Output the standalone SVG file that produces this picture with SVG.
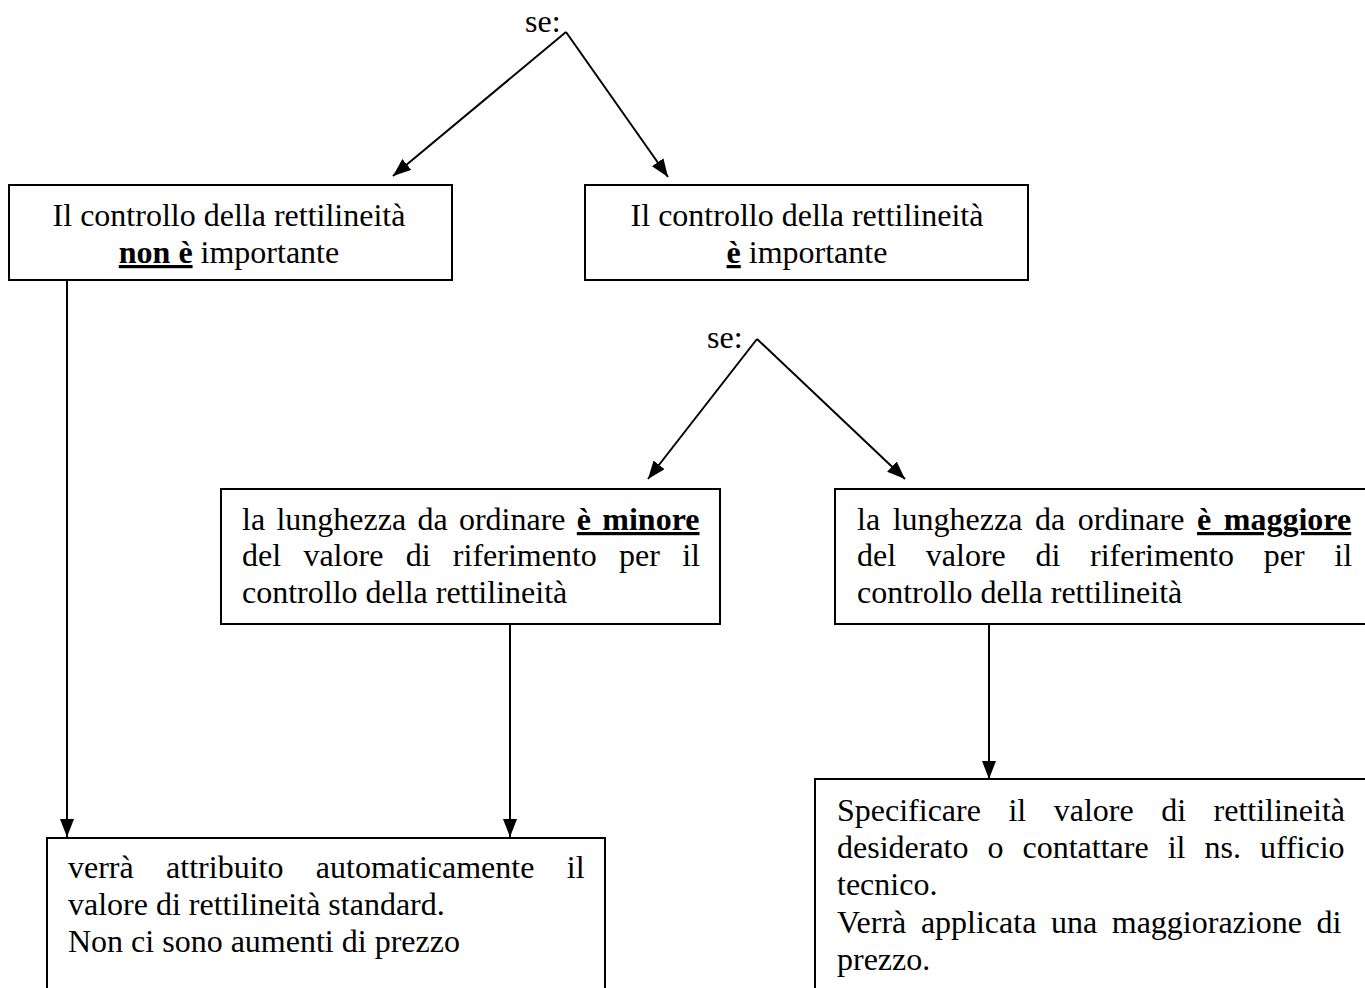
<svg xmlns="http://www.w3.org/2000/svg" width="1365" height="988" viewBox="0 0 1365 988">
<defs>
<style>
text{font-family:"Liberation Serif","Times New Roman",serif;font-size:32px;fill:#000}
.box{fill:#fff;stroke:#000;stroke-width:2}
.c{text-anchor:middle}
.b{font-weight:bold;text-decoration:underline}
.edge{stroke:#000;stroke-width:2;fill:none}
</style>
<marker id="ah" viewBox="0 0 18 14" refX="18" refY="7" markerWidth="18" markerHeight="14" markerUnits="userSpaceOnUse" orient="auto">
<path d="M0,0 L18,7 L0,14 Z" fill="#000"/>
</marker>
</defs>
<rect width="1365" height="988" fill="#fff"/>
<g id="connectors">
<line class="edge" x1="566" y1="32" x2="393" y2="176" marker-end="url(#ah)"/>
<line class="edge" x1="566" y1="32" x2="668" y2="177" marker-end="url(#ah)"/>
<line class="edge" x1="757" y1="339" x2="648" y2="479" marker-end="url(#ah)"/>
<line class="edge" x1="757" y1="339" x2="905" y2="479" marker-end="url(#ah)"/>
<line class="edge" x1="67" y1="281" x2="67" y2="837" marker-end="url(#ah)"/>
<line class="edge" x1="510" y1="625" x2="510" y2="837" marker-end="url(#ah)"/>
<line class="edge" x1="989" y1="625" x2="989" y2="779" marker-end="url(#ah)"/>
</g>
<g id="se1"><text x="525" y="32">se:</text></g>
<g id="se2"><text x="707" y="348">se:</text></g>
<g id="n1">
<rect class="box" x="9" y="185" width="443" height="95"/>
<text class="c" x="229" y="226">Il controllo della rettilineità</text>
<text class="c" x="229" y="263"><tspan class="b">non è</tspan> importante</text>
</g>
<g id="n2">
<rect class="box" x="585" y="185" width="443" height="95"/>
<text class="c" x="807" y="226">Il controllo della rettilineità</text>
<text class="c" x="807" y="263"><tspan class="b">è</tspan> importante</text>
</g>
<g id="n3">
<rect class="box" x="221" y="489" width="499" height="135"/>
<text x="242" y="530" word-spacing="3.3">la lunghezza da ordinare <tspan class="b">è minore</tspan></text>
<text x="242" y="566" word-spacing="14.3">del valore di riferimento per il</text>
<text x="242" y="603">controllo della rettilineità</text>
</g>
<g id="n4">
<rect class="box" x="835" y="489" width="545" height="135"/>
<text x="857" y="530" word-spacing="4.6">la lunghezza da ordinare <tspan class="b">è maggiore</tspan></text>
<text x="857" y="566" word-spacing="21.7">del valore di riferimento per il</text>
<text x="857" y="603">controllo della rettilineità</text>
</g>
<g id="n5">
<rect class="box" x="47" y="838" width="558" height="170"/>
<text x="68" y="878" word-spacing="24.4">verrà attribuito automaticamente il</text>
<text x="68" y="915">valore di rettilineità standard.</text>
<text x="68" y="952">Non ci sono aumenti di prezzo</text>
</g>
<g id="n6">
<rect class="box" x="815" y="779" width="565" height="230"/>
<text x="837" y="821" word-spacing="19.5">Specificare il valore di rettilineità</text>
<text x="837" y="858" word-spacing="11">desiderato o contattare il ns. ufficio</text>
<text x="837" y="895">tecnico.</text>
<text x="837" y="933" word-spacing="6.6">Verrà applicata una maggiorazione di</text>
<text x="837" y="970">prezzo.</text>
</g>
</svg>
